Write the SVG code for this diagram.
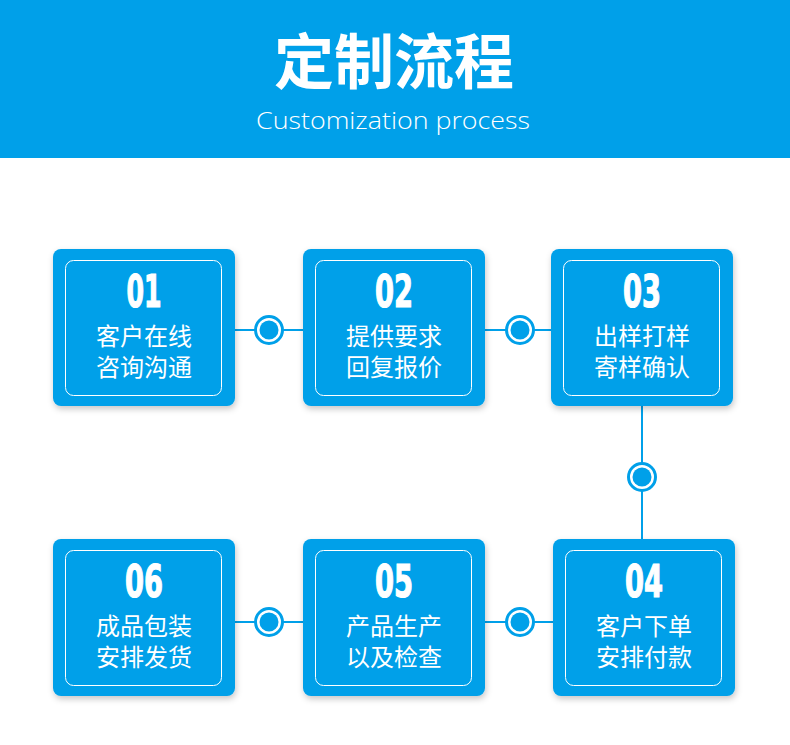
<svg xmlns="http://www.w3.org/2000/svg" width="790" height="745" viewBox="0 0 790 745">
<defs>
<filter id="sh" x="-10%" y="-10%" width="125%" height="130%">
<feDropShadow dx="1" dy="3" stdDeviation="3" flood-color="#000" flood-opacity="0.22"/>
</filter>
</defs>
<style>
.box{fill:#00a0e9;filter:url(#sh)}
.inner{fill:none;stroke:#fff;stroke-width:1}
.num{font-family:"Liberation Sans Narrow","DejaVu Sans Condensed","Liberation Sans",sans-serif;font-weight:bold;font-size:44px;fill:#fff;stroke:#fff;stroke-width:1.2;text-anchor:middle}
.cn{font-family:"Noto Sans CJK SC","Noto Sans CJK JP",sans-serif;font-size:24px;fill:#fff;text-anchor:middle}
.ln{stroke:#00a0e9;stroke-width:2;fill:none}
.ring{fill:#fff;stroke:#00a0e9;stroke-width:3}
.dot{fill:#00a0e9}
</style>
<rect x="0" y="0" width="790" height="745" fill="#fff"/>
<g id="header">
<rect x="0" y="0" width="790" height="158" fill="#00a0e9"/>
<text x="394" y="84" font-family="Noto Sans CJK SC, Noto Sans CJK JP, sans-serif" font-weight="bold" font-size="60" fill="#fff" text-anchor="middle">定制流程</text>
<text x="393" y="129" font-family="Open Sans, Lato, Liberation Sans, sans-serif" font-weight="300" font-size="24" fill="#fff" text-anchor="middle" textLength="274" lengthAdjust="spacingAndGlyphs">Customization process</text>
</g>
<g id="connectors">
<line class="ln" x1="235" y1="330" x2="303" y2="330"/>
<line class="ln" x1="485" y1="330" x2="551" y2="330"/>
<line class="ln" x1="642" y1="406" x2="642" y2="539"/>
<line class="ln" x1="235" y1="622" x2="303" y2="622"/>
<line class="ln" x1="485" y1="622" x2="553" y2="622"/>
<circle class="ring" cx="269" cy="330" r="13.5"/><circle class="dot" cx="269" cy="330" r="9.5"/>
<circle class="ring" cx="520" cy="330" r="13.5"/><circle class="dot" cx="520" cy="330" r="9.5"/>
<circle class="ring" cx="642" cy="477" r="13.5"/><circle class="dot" cx="642" cy="477" r="9.5"/>
<circle class="ring" cx="269" cy="622" r="13.5"/><circle class="dot" cx="269" cy="622" r="9.5"/>
<circle class="ring" cx="520" cy="622" r="13.5"/><circle class="dot" cx="520" cy="622" r="9.5"/>
</g>
<g id="step01">
<rect class="box" x="53" y="249" width="182" height="157" rx="8"/>
<rect class="inner" x="65.5" y="260.5" width="156" height="135" rx="8"/>
<text class="num" x="144" y="307" textLength="35" lengthAdjust="spacingAndGlyphs">01</text>
<text class="cn" x="144" y="345">客户在线</text>
<text class="cn" x="144" y="376">咨询沟通</text>
</g>
<g id="step02">
<rect class="box" x="303" y="249" width="182" height="157" rx="8"/>
<rect class="inner" x="315.5" y="260.5" width="156" height="135" rx="8"/>
<text class="num" x="394" y="307" textLength="38" lengthAdjust="spacingAndGlyphs">02</text>
<text class="cn" x="394" y="345">提供要求</text>
<text class="cn" x="394" y="376">回复报价</text>
</g>
<g id="step03">
<rect class="box" x="551" y="249" width="182" height="157" rx="8"/>
<rect class="inner" x="563.5" y="260.5" width="156" height="135" rx="8"/>
<text class="num" x="642" y="307" textLength="38" lengthAdjust="spacingAndGlyphs">03</text>
<text class="cn" x="642" y="345">出样打样</text>
<text class="cn" x="642" y="376">寄样确认</text>
</g>
<g id="step04">
<rect class="box" x="553" y="539" width="182" height="157" rx="8"/>
<rect class="inner" x="565.5" y="550.5" width="156" height="135" rx="8"/>
<text class="num" x="644" y="597" textLength="38" lengthAdjust="spacingAndGlyphs">04</text>
<text class="cn" x="644" y="635">客户下单</text>
<text class="cn" x="644" y="666">安排付款</text>
</g>
<g id="step05">
<rect class="box" x="303" y="539" width="182" height="157" rx="8"/>
<rect class="inner" x="315.5" y="550.5" width="156" height="135" rx="8"/>
<text class="num" x="394" y="597" textLength="38" lengthAdjust="spacingAndGlyphs">05</text>
<text class="cn" x="394" y="635">产品生产</text>
<text class="cn" x="394" y="666">以及检查</text>
</g>
<g id="step06">
<rect class="box" x="53" y="539" width="182" height="157" rx="8"/>
<rect class="inner" x="65.5" y="550.5" width="156" height="135" rx="8"/>
<text class="num" x="144" y="597" textLength="38" lengthAdjust="spacingAndGlyphs">06</text>
<text class="cn" x="144" y="635">成品包装</text>
<text class="cn" x="144" y="666">安排发货</text>
</g>
</svg>
